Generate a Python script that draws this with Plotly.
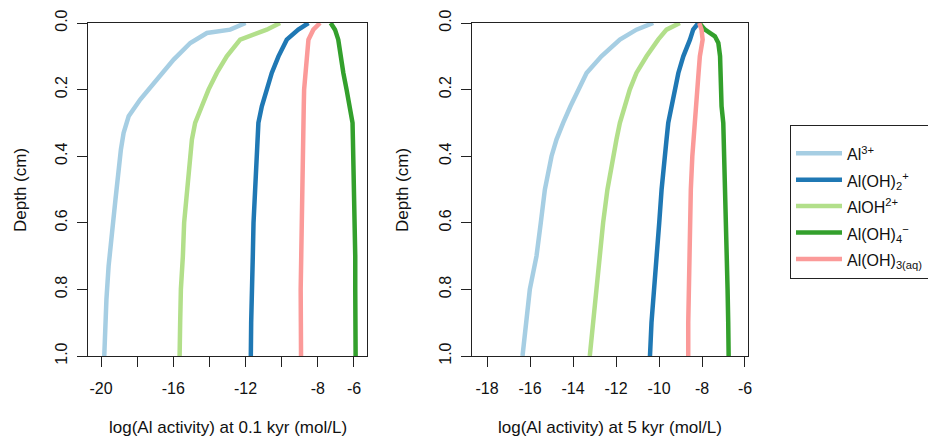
import plotly.graph_objects as go

W, H = 928, 439

species = ["Al<sup>3+</sup>", "Al(OH)<sub>2</sub><sup>+</sup>", "AlOH<sup>2+</sup>",
           "Al(OH)<sub>4</sub><sup>−</sup>", "Al(OH)<sub>3(aq)</sub>"]
colors = ["#A6CEE3", "#1F78B4", "#B2DF8A", "#33A02C", "#FB9A99"]

# ---- 0.1 kyr panel ----
d_al3_01 = [0, 0.02, 0.03, 0.06, 0.11, 0.18, 0.23, 0.28, 0.33, 0.38, 0.43, 0.53, 0.63, 0.73, 0.83, 1.0]
v_al3_01 = [-12.0, -12.85, -14.14, -15.06, -15.98, -17.09, -17.83, -18.47, -18.75, -18.9, -19.02, -19.2, -19.39, -19.58, -19.7, -19.82]

d_std = [0, 0.02, 0.05, 0.1, 0.15, 0.2, 0.25, 0.3, 0.35, 0.4, 0.5, 0.6, 0.7, 0.8, 0.9, 1.0]
v_aloh2_01 = [-10.09, -10.83, -12.3, -13.04, -13.59, -14.05, -14.42, -14.79, -14.97, -15.06, -15.25, -15.4, -15.47, -15.58, -15.62, -15.65]
v_aloh2p_01 = [-8.52, -9.08, -9.72, -10.18, -10.55, -10.83, -11.1, -11.29, -11.34, -11.42, -11.47, -11.56, -11.6, -11.66, -11.69, -11.71]
v_aloh4_01 = [-7.29, -7.05, -6.87, -6.74, -6.59, -6.41, -6.22, -6.08, -6.06, -6.04, -5.95, -5.94, -5.93, -5.93, -5.92, -5.91]
v_aloh3_01 = [-7.88, -8.25, -8.52, -8.62, -8.7, -8.76, -8.78, -8.8, -8.82, -8.84, -8.87, -8.89, -8.95, -8.95, -8.94, -8.93]

# ---- 5 kyr panel ----
v_al3_5 = [-10.27, -11.05, -11.82, -12.68, -13.37, -13.76, -14.12, -14.46, -14.77, -15.0, -15.31, -15.5, -15.7, -16.01, -16.2, -16.35]
v_aloh2_5 = [-9.03, -9.65, -10.04, -10.58, -11.05, -11.36, -11.59, -11.82, -11.98, -12.13, -12.4, -12.6, -12.75, -12.94, -13.09, -13.22]
v_aloh2p_5 = [-8.17, -8.41, -8.56, -8.87, -9.1, -9.26, -9.42, -9.57, -9.65, -9.73, -9.88, -9.99, -10.11, -10.24, -10.35, -10.42]
v_aloh3_5 = [-8.13, -8.02, -7.97, -8.1, -8.16, -8.22, -8.3, -8.38, -8.42, -8.45, -8.52, -8.56, -8.59, -8.64, -8.64, -8.64]
d_aloh4_5 = [0, 0.02, 0.04, 0.06, 0.1, 0.2, 0.25, 0.3, 0.4, 0.5, 0.6, 0.7, 0.8, 0.9, 1.0]
v_aloh4_5 = [-8.13, -7.86, -7.4, -7.24, -7.16, -7.13, -7.09, -7.01, -6.96, -6.92, -6.89, -6.85, -6.81, -6.78, -6.76]

panel1 = [(d_al3_01, v_al3_01), (d_std, v_aloh2p_01), (d_std, v_aloh2_01),
          (d_std, v_aloh4_01), (d_std, v_aloh3_01)]
panel2 = [(d_std, v_al3_5), (d_std, v_aloh2p_5), (d_std, v_aloh2_5),
          (d_aloh4_5, v_aloh4_5), (d_std, v_aloh3_5)]

x1_ticks = [-20, -18, -16, -14, -12, -10, -8, -6]
x1_text = ["-20", "", "-16", "", "-12", "", "-8", "-6"]
x2_ticks = [-18, -16, -14, -12, -10, -8, -6]
x2_text = ["-18", "-16", "-14", "-12", "-10", "-8", "-6"]
y_ticks = [0, 0.2, 0.4, 0.6, 0.8, 1.0]
y_text = ["0.0", "0.2", "0.4", "0.6", "0.8", "1.0"]

fig = go.Figure()
for i, (d, v) in enumerate(panel1):
    fig.add_trace(go.Scatter(x=v, y=d, mode="lines",
                             name='<span style="font-size:16px">' + species[i] + '</span>',
                             line=dict(color=colors[i], width=4.5),
                             xaxis="x", yaxis="y", showlegend=True))
for i, (d, v) in enumerate(panel2):
    fig.add_trace(go.Scatter(x=v, y=d, mode="lines", name=species[i],
                             line=dict(color=colors[i], width=4.5),
                             xaxis="x2", yaxis="y2", showlegend=False))

def px(x):
    return x / W

def py(y):
    return 1 - y / H

font = dict(family="Liberation Sans, Arial, sans-serif", size=16, color="#111")
ax_common = dict(showline=True, mirror=True, linecolor="#222", linewidth=1,
                 ticks="outside", ticklen=10, tickcolor="#222", tickwidth=1,
                 showgrid=False, zeroline=False, tickfont=font)

fig.update_layout(
    width=W, height=H, margin=dict(l=0, r=0, t=0, b=0, autoexpand=False),
    paper_bgcolor="white", plot_bgcolor="white", font=font,
    xaxis=dict(domain=[px(88), px(367)], range=[-20.72, -5.28], anchor="y",
               tickvals=x1_ticks, ticktext=x1_text, ticklabelstandoff=8, **ax_common),
    yaxis=dict(domain=[py(356), py(23)], range=[1, 0], anchor="x",
               tickvals=y_ticks, ticktext=y_text, tickangle=-90, ticklabelstandoff=4, **ax_common),
    xaxis2=dict(domain=[px(472), px(748)], range=[-18.70, -5.86], anchor="y2",
                tickvals=x2_ticks, ticktext=x2_text, ticklabelstandoff=8, **ax_common),
    yaxis2=dict(domain=[py(356), py(23)], range=[1, 0], anchor="x2",
                tickvals=y_ticks, ticktext=y_text, tickangle=-90, ticklabelstandoff=4, **ax_common),
    legend=dict(x=px(790), y=py(125), xanchor="left", yanchor="top",
                bordercolor="#222", borderwidth=1, bgcolor="white",
                font=dict(family="Liberation Sans, Arial, sans-serif", size=18, color="#111"),
                title=dict(text=" ", font=dict(size=7)),
                itemwidth=46, tracegroupgap=0),
    annotations=[
        dict(text="log(Al activity) at 0.1 kyr (mol/L)", x=px(227.5), y=py(427), xref="paper", yref="paper",
             showarrow=False, xanchor="center", yanchor="middle", font=dict(size=17)),
        dict(text="log(Al activity) at 5 kyr (mol/L)", x=px(610), y=py(427), xref="paper", yref="paper",
             showarrow=False, xanchor="center", yanchor="middle", font=dict(size=17)),
        dict(text="Depth (cm)", x=px(20), y=py(190), xref="paper", yref="paper", textangle=-90,
             showarrow=False, xanchor="center", yanchor="middle", font=dict(size=17)),
        dict(text="Depth (cm)", x=px(402), y=py(190), xref="paper", yref="paper", textangle=-90,
             showarrow=False, xanchor="center", yanchor="middle", font=dict(size=17)),
    ],
)

fig.write_html("out.html")
